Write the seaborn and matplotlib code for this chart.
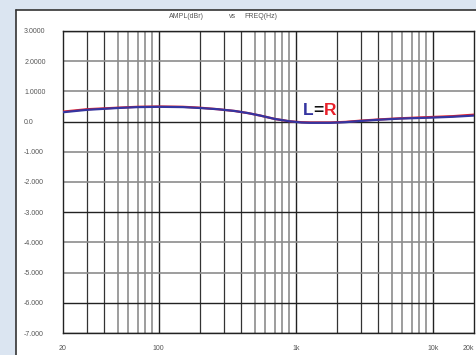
import numpy as np
import pandas as pd
import matplotlib
matplotlib.use("Agg")
import matplotlib.pyplot as plt
from matplotlib.patches import Rectangle
import seaborn as sns

# -----------------------------
# data
# -----------------------------
freq = [20, 30, 50, 70, 100, 150, 200, 270, 360, 450, 550, 700, 900, 1100, 1270,
        1780, 2300, 2950, 4000, 5800, 9500, 14000, 20000]
ampl_L = [0.31, 0.39, 0.45, 0.48, 0.49, 0.48, 0.45, 0.41, 0.35, 0.28, 0.20, 0.09, 0.01, -0.03, -0.04,
          -0.04, -0.02, 0.02, 0.06, 0.10, 0.13, 0.16, 0.20]
ampl_R = [0.33, 0.41, 0.46, 0.49, 0.50, 0.49, 0.46, 0.41, 0.35, 0.28, 0.20, 0.09, 0.01, -0.02, -0.03,
          -0.03, -0.01, 0.03, 0.07, 0.11, 0.15, 0.18, 0.23]

y_ticks = [3, 2, 1, 0, -1, -2, -3, -4, -5, -6, -7]
y_labels = ["3.0000", "2.0000", "1.0000", "0.0", "-1.000", "-2.000", "-3.000",
            "-4.000", "-5.000", "-6.000", "-7.000"]
x_ticks = [20, 100, 1000, 10000, 20000]
x_labels = ["20", "100", "1k", "10k", "20k"]

df = pd.DataFrame({"freq": freq, "L": ampl_L, "R": ampl_R})

sns.set_style("white")
plt.rcParams["font.family"] = ["Liberation Sans", "DejaVu Sans"]

fig = plt.figure(figsize=(4.76, 3.55), dpi=100)
fig.patch.set_facecolor("#dbe5f1")

# white panel with dark left/top edge
fig.patches.append(Rectangle((16 / 476, 0), 1, 1 - 10 / 355, transform=fig.transFigure,
                             facecolor="white", edgecolor="none", zorder=-2))
fig.add_artist(plt.Line2D([16 / 476, 16 / 476], [0, 1 - 10 / 355], color="#333333", lw=1.2, zorder=-1))
fig.add_artist(plt.Line2D([16 / 476, 1], [1 - 10 / 355, 1 - 10 / 355], color="#333333", lw=1.2, zorder=-1))

ax = fig.add_axes([63 / 476, 1 - 333 / 355, (474 - 63) / 476, (333 - 31) / 355])
ax.set_zorder(2)
ax.set_facecolor("white")
ax.set_xscale("log")
ax.set_xlim(20, 20000)
ax.set_ylim(-7, 3)

# -----------------------------
# grid
# -----------------------------
for dec in [10, 100, 1000, 10000]:
    for m in range(2, 10):
        f = m * dec
        if f <= 20 or f >= 20000:
            continue
        dark = m <= 4
        ax.axvline(f, color="#333333" if dark else "#8c8c8c",
                   lw=0.9 if dark else 1.2, zorder=1)
for f in [100, 1000, 10000]:
    ax.axvline(f, color="#222222", lw=1.0, zorder=1)
for v in y_ticks:
    dark = v in (3, 0, -3, -6, -7)
    ax.axhline(v, color="#222222" if dark else "#8c8c8c",
               lw=1.0 if dark else 1.2, zorder=1)

# -----------------------------
# curves
# -----------------------------
sns.lineplot(data=df, x="freq", y="R", color="#e8202a", lw=1.6, ax=ax, zorder=3)
sns.lineplot(data=df, x="freq", y="L", color="#3535a0", lw=1.6, ax=ax, zorder=4)

for s in ax.spines.values():
    s.set_color("#222222")
    s.set_linewidth(1.0)

ax.set_yticks(y_ticks)
ax.set_yticklabels(y_labels, ha="left")
ax.set_xticks(x_ticks)
ax.set_xticklabels(x_labels)
ax.get_xticklabels()[-1].set_ha("right")
ax.xaxis.set_minor_locator(matplotlib.ticker.NullLocator())
ax.tick_params(axis="y", length=0, pad=28, labelsize=5, labelcolor="#555555")
ax.tick_params(axis="x", length=0, pad=9, labelsize=5, labelcolor="#555555")
ax.set_xlabel("")
ax.set_ylabel("")

# title pieces
fig.text(186 / 476, 1 - 16 / 355, "AMPL(dBr)", ha="center", va="center", fontsize=5, color="#555555")
fig.text(233 / 476, 1 - 16 / 355, "vs", ha="center", va="center", fontsize=5, color="#555555")
fig.text(261 / 476, 1 - 16 / 355, "FREQ(Hz)", ha="center", va="center", fontsize=5, color="#555555")

# L=R label
fig.text(313 / 476, 1 - 115 / 355, "L", ha="right", va="baseline", fontsize=12.5,
         fontweight="bold", color="#3535a0", zorder=5)
fig.text(318.5 / 476, 1 - 115 / 355, "=", ha="center", va="baseline", fontsize=12.5,
         fontweight="bold", color="#111111", zorder=5)
fig.text(324 / 476, 1 - 115 / 355, "R", ha="left", va="baseline", fontsize=12.5,
         fontweight="bold", color="#e8202a", zorder=5)

fig.savefig("out.png", dpi=100)
